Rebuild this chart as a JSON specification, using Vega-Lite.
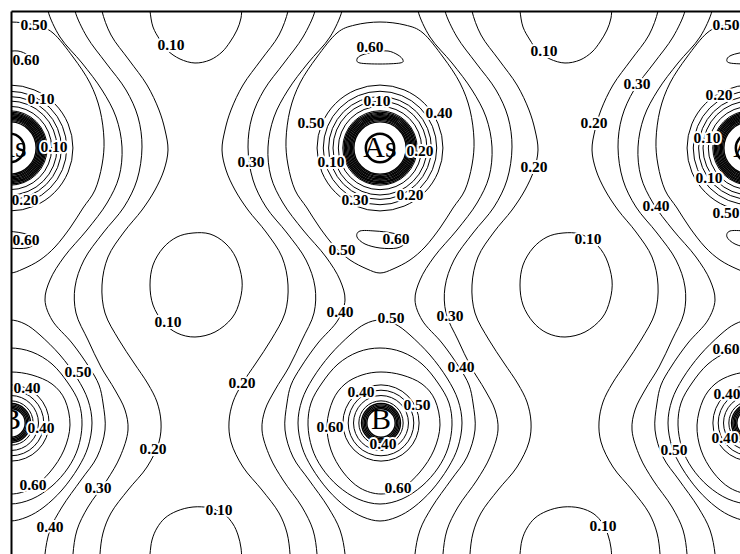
{
  "$schema": "https://vega.github.io/schema/vega-lite/v6.json",
  "width": 729,
  "height": 543,
  "autosize": {"type": "none"},
  "padding": {"left": 11, "top": 11, "right": 0, "bottom": 0},
  "background": "white",
  "config": {"view": {"stroke": null}},
  "datasets": {
    "open": [
      {"c":"L1a","x":289,"y":0},{"c":"L1a","x":288,"y":11},{"c":"L1a","x":279,"y":35},{"c":"L1a","x":261,"y":60},{"c":"L1a","x":243,"y":85},{"c":"L1a","x":231,"y":110},{"c":"L1a","x":225,"y":130},{"c":"L1a","x":222,"y":150},{"c":"L1a","x":226,"y":170},{"c":"L1a","x":235,"y":190},{"c":"L1a","x":248,"y":210},{"c":"L1a","x":266,"y":232},{"c":"L1a","x":282,"y":257},{"c":"L1a","x":288,"y":285},{"c":"L1a","x":285,"y":313},{"c":"L1a","x":271,"y":340},{"c":"L1a","x":256,"y":363},{"c":"L1a","x":242,"y":384},{"c":"L1a","x":233,"y":402},{"c":"L1a","x":229,"y":422},{"c":"L1a","x":231,"y":442},{"c":"L1a","x":243,"y":467},{"c":"L1a","x":262,"y":490},{"c":"L1a","x":279,"y":513},{"c":"L1a","x":287,"y":533},{"c":"L1a","x":290,"y":554},{"c":"L1a","x":290,"y":565},
      {"c":"L1b","x":471,"y":0},{"c":"L1b","x":472,"y":11},{"c":"L1b","x":481,"y":35},{"c":"L1b","x":499,"y":60},{"c":"L1b","x":517,"y":85},{"c":"L1b","x":529,"y":110},{"c":"L1b","x":535,"y":130},{"c":"L1b","x":538,"y":150},{"c":"L1b","x":534,"y":170},{"c":"L1b","x":525,"y":190},{"c":"L1b","x":512,"y":210},{"c":"L1b","x":494,"y":232},{"c":"L1b","x":478,"y":257},{"c":"L1b","x":472,"y":285},{"c":"L1b","x":475,"y":313},{"c":"L1b","x":489,"y":340},{"c":"L1b","x":504,"y":363},{"c":"L1b","x":518,"y":384},{"c":"L1b","x":527,"y":402},{"c":"L1b","x":531,"y":422},{"c":"L1b","x":529,"y":442},{"c":"L1b","x":517,"y":467},{"c":"L1b","x":498,"y":490},{"c":"L1b","x":481,"y":513},{"c":"L1b","x":473,"y":533},{"c":"L1b","x":470,"y":554},{"c":"L1b","x":470,"y":565},
      {"c":"L1c","x":101,"y":0},{"c":"L1c","x":102,"y":11},{"c":"L1c","x":111,"y":35},{"c":"L1c","x":129,"y":60},{"c":"L1c","x":147,"y":85},{"c":"L1c","x":159,"y":110},{"c":"L1c","x":165,"y":130},{"c":"L1c","x":168,"y":150},{"c":"L1c","x":164,"y":170},{"c":"L1c","x":155,"y":190},{"c":"L1c","x":142,"y":210},{"c":"L1c","x":124,"y":232},{"c":"L1c","x":108,"y":257},{"c":"L1c","x":102,"y":285},{"c":"L1c","x":105,"y":313},{"c":"L1c","x":119,"y":340},{"c":"L1c","x":134,"y":363},{"c":"L1c","x":148,"y":384},{"c":"L1c","x":157,"y":402},{"c":"L1c","x":161,"y":422},{"c":"L1c","x":159,"y":442},{"c":"L1c","x":147,"y":467},{"c":"L1c","x":128,"y":490},{"c":"L1c","x":111,"y":513},{"c":"L1c","x":103,"y":533},{"c":"L1c","x":100,"y":554},{"c":"L1c","x":100,"y":565},
      {"c":"L1d","x":659,"y":0},{"c":"L1d","x":658,"y":11},{"c":"L1d","x":649,"y":35},{"c":"L1d","x":631,"y":60},{"c":"L1d","x":613,"y":85},{"c":"L1d","x":601,"y":110},{"c":"L1d","x":595,"y":130},{"c":"L1d","x":592,"y":150},{"c":"L1d","x":596,"y":170},{"c":"L1d","x":605,"y":190},{"c":"L1d","x":618,"y":210},{"c":"L1d","x":636,"y":232},{"c":"L1d","x":652,"y":257},{"c":"L1d","x":658,"y":285},{"c":"L1d","x":655,"y":313},{"c":"L1d","x":641,"y":340},{"c":"L1d","x":626,"y":363},{"c":"L1d","x":612,"y":384},{"c":"L1d","x":603,"y":402},{"c":"L1d","x":599,"y":422},{"c":"L1d","x":601,"y":442},{"c":"L1d","x":613,"y":467},{"c":"L1d","x":632,"y":490},{"c":"L1d","x":649,"y":513},{"c":"L1d","x":657,"y":533},{"c":"L1d","x":660,"y":554},{"c":"L1d","x":660,"y":565},
      {"c":"L2a","x":316,"y":0},{"c":"L2a","x":315,"y":11},{"c":"L2a","x":303,"y":37},{"c":"L2a","x":284,"y":63},{"c":"L2a","x":264,"y":90},{"c":"L2a","x":252,"y":117},{"c":"L2a","x":248,"y":147},{"c":"L2a","x":253,"y":180},{"c":"L2a","x":266,"y":207},{"c":"L2a","x":287,"y":233},{"c":"L2a","x":306,"y":260},{"c":"L2a","x":315,"y":287},{"c":"L2a","x":314,"y":313},{"c":"L2a","x":302,"y":340},{"c":"L2a","x":289,"y":367},{"c":"L2a","x":275,"y":390},{"c":"L2a","x":265,"y":410},{"c":"L2a","x":262,"y":430},{"c":"L2a","x":270,"y":457},{"c":"L2a","x":283,"y":480},{"c":"L2a","x":302,"y":507},{"c":"L2a","x":313,"y":530},{"c":"L2a","x":317,"y":554},{"c":"L2a","x":317,"y":565},
      {"c":"L2b","x":444,"y":0},{"c":"L2b","x":445,"y":11},{"c":"L2b","x":457,"y":37},{"c":"L2b","x":476,"y":63},{"c":"L2b","x":496,"y":90},{"c":"L2b","x":508,"y":117},{"c":"L2b","x":512,"y":147},{"c":"L2b","x":507,"y":180},{"c":"L2b","x":494,"y":207},{"c":"L2b","x":473,"y":233},{"c":"L2b","x":454,"y":260},{"c":"L2b","x":445,"y":287},{"c":"L2b","x":446,"y":313},{"c":"L2b","x":458,"y":340},{"c":"L2b","x":471,"y":367},{"c":"L2b","x":485,"y":390},{"c":"L2b","x":495,"y":410},{"c":"L2b","x":498,"y":430},{"c":"L2b","x":490,"y":457},{"c":"L2b","x":477,"y":480},{"c":"L2b","x":458,"y":507},{"c":"L2b","x":447,"y":530},{"c":"L2b","x":443,"y":554},{"c":"L2b","x":443,"y":565},
      {"c":"L2c","x":74,"y":0},{"c":"L2c","x":75,"y":11},{"c":"L2c","x":87,"y":37},{"c":"L2c","x":106,"y":63},{"c":"L2c","x":126,"y":90},{"c":"L2c","x":138,"y":117},{"c":"L2c","x":142,"y":147},{"c":"L2c","x":137,"y":180},{"c":"L2c","x":124,"y":207},{"c":"L2c","x":103,"y":233},{"c":"L2c","x":84,"y":260},{"c":"L2c","x":75,"y":287},{"c":"L2c","x":76,"y":313},{"c":"L2c","x":88,"y":340},{"c":"L2c","x":101,"y":367},{"c":"L2c","x":115,"y":390},{"c":"L2c","x":125,"y":410},{"c":"L2c","x":128,"y":430},{"c":"L2c","x":120,"y":457},{"c":"L2c","x":107,"y":480},{"c":"L2c","x":88,"y":507},{"c":"L2c","x":77,"y":530},{"c":"L2c","x":73,"y":554},{"c":"L2c","x":73,"y":565},
      {"c":"L2d","x":686,"y":0},{"c":"L2d","x":685,"y":11},{"c":"L2d","x":673,"y":37},{"c":"L2d","x":654,"y":63},{"c":"L2d","x":634,"y":90},{"c":"L2d","x":622,"y":117},{"c":"L2d","x":618,"y":147},{"c":"L2d","x":623,"y":180},{"c":"L2d","x":636,"y":207},{"c":"L2d","x":657,"y":233},{"c":"L2d","x":676,"y":260},{"c":"L2d","x":685,"y":287},{"c":"L2d","x":684,"y":313},{"c":"L2d","x":672,"y":340},{"c":"L2d","x":659,"y":367},{"c":"L2d","x":645,"y":390},{"c":"L2d","x":635,"y":410},{"c":"L2d","x":632,"y":430},{"c":"L2d","x":640,"y":457},{"c":"L2d","x":653,"y":480},{"c":"L2d","x":672,"y":507},{"c":"L2d","x":683,"y":530},{"c":"L2d","x":687,"y":554},{"c":"L2d","x":687,"y":565},
      {"c":"L3a","x":343,"y":0},{"c":"L3a","x":342,"y":11},{"c":"L3a","x":330,"y":37},{"c":"L3a","x":308,"y":63},{"c":"L3a","x":288,"y":90},{"c":"L3a","x":274,"y":117},{"c":"L3a","x":268,"y":147},{"c":"L3a","x":271,"y":177},{"c":"L3a","x":283,"y":203},{"c":"L3a","x":303,"y":230},{"c":"L3a","x":326,"y":257},{"c":"L3a","x":340,"y":280},{"c":"L3a","x":345,"y":300},{"c":"L3a","x":338,"y":320},{"c":"L3a","x":318,"y":343},{"c":"L3a","x":301,"y":367},{"c":"L3a","x":291,"y":385},{"c":"L3a","x":287,"y":403},{"c":"L3a","x":285,"y":430},{"c":"L3a","x":293,"y":457},{"c":"L3a","x":309,"y":480},{"c":"L3a","x":328,"y":507},{"c":"L3a","x":340,"y":530},{"c":"L3a","x":345,"y":554},{"c":"L3a","x":345,"y":565},
      {"c":"L3b","x":417,"y":0},{"c":"L3b","x":418,"y":11},{"c":"L3b","x":430,"y":37},{"c":"L3b","x":452,"y":63},{"c":"L3b","x":472,"y":90},{"c":"L3b","x":486,"y":117},{"c":"L3b","x":492,"y":147},{"c":"L3b","x":489,"y":177},{"c":"L3b","x":477,"y":203},{"c":"L3b","x":457,"y":230},{"c":"L3b","x":434,"y":257},{"c":"L3b","x":420,"y":280},{"c":"L3b","x":415,"y":300},{"c":"L3b","x":422,"y":320},{"c":"L3b","x":442,"y":343},{"c":"L3b","x":459,"y":367},{"c":"L3b","x":469,"y":385},{"c":"L3b","x":473,"y":403},{"c":"L3b","x":475,"y":430},{"c":"L3b","x":467,"y":457},{"c":"L3b","x":451,"y":480},{"c":"L3b","x":432,"y":507},{"c":"L3b","x":420,"y":530},{"c":"L3b","x":415,"y":554},{"c":"L3b","x":415,"y":565},
      {"c":"L3c","x":47,"y":0},{"c":"L3c","x":48,"y":11},{"c":"L3c","x":60,"y":37},{"c":"L3c","x":82,"y":63},{"c":"L3c","x":102,"y":90},{"c":"L3c","x":116,"y":117},{"c":"L3c","x":122,"y":147},{"c":"L3c","x":119,"y":177},{"c":"L3c","x":107,"y":203},{"c":"L3c","x":87,"y":230},{"c":"L3c","x":64,"y":257},{"c":"L3c","x":50,"y":280},{"c":"L3c","x":45,"y":300},{"c":"L3c","x":52,"y":320},{"c":"L3c","x":72,"y":343},{"c":"L3c","x":89,"y":367},{"c":"L3c","x":99,"y":385},{"c":"L3c","x":103,"y":403},{"c":"L3c","x":105,"y":430},{"c":"L3c","x":97,"y":457},{"c":"L3c","x":81,"y":480},{"c":"L3c","x":62,"y":507},{"c":"L3c","x":50,"y":530},{"c":"L3c","x":45,"y":554},{"c":"L3c","x":45,"y":565},
      {"c":"L3d","x":713,"y":0},{"c":"L3d","x":712,"y":11},{"c":"L3d","x":700,"y":37},{"c":"L3d","x":678,"y":63},{"c":"L3d","x":658,"y":90},{"c":"L3d","x":644,"y":117},{"c":"L3d","x":638,"y":147},{"c":"L3d","x":641,"y":177},{"c":"L3d","x":653,"y":203},{"c":"L3d","x":673,"y":230},{"c":"L3d","x":696,"y":257},{"c":"L3d","x":710,"y":280},{"c":"L3d","x":715,"y":300},{"c":"L3d","x":708,"y":320},{"c":"L3d","x":688,"y":343},{"c":"L3d","x":671,"y":367},{"c":"L3d","x":661,"y":385},{"c":"L3d","x":657,"y":403},{"c":"L3d","x":655,"y":430},{"c":"L3d","x":663,"y":457},{"c":"L3d","x":679,"y":480},{"c":"L3d","x":698,"y":507},{"c":"L3d","x":710,"y":530},{"c":"L3d","x":715,"y":554},{"c":"L3d","x":715,"y":565},
      {"c":"T1","x":149,"y":0},{"c":"T1","x":150,"y":11},{"c":"T1","x":153,"y":27},{"c":"T1","x":160,"y":40},{"c":"T1","x":167,"y":50},{"c":"T1","x":180,"y":59},{"c":"T1","x":195,"y":63},{"c":"T1","x":210,"y":60},{"c":"T1","x":222,"y":52},{"c":"T1","x":230,"y":42},{"c":"T1","x":237,"y":30},{"c":"T1","x":241,"y":18},{"c":"T1","x":242,"y":0},
      {"c":"T2","x":519,"y":0},{"c":"T2","x":520,"y":11},{"c":"T2","x":523,"y":27},{"c":"T2","x":530,"y":40},{"c":"T2","x":537,"y":50},{"c":"T2","x":550,"y":59},{"c":"T2","x":565,"y":63},{"c":"T2","x":580,"y":60},{"c":"T2","x":592,"y":52},{"c":"T2","x":600,"y":42},{"c":"T2","x":607,"y":30},{"c":"T2","x":611,"y":18},{"c":"T2","x":612,"y":0},
      {"c":"B1","x":149,"y":565},{"c":"B1","x":150,"y":554},{"c":"B1","x":152,"y":540},{"c":"B1","x":157,"y":528},{"c":"B1","x":165,"y":518},{"c":"B1","x":177,"y":511},{"c":"B1","x":193,"y":507},{"c":"B1","x":210,"y":508},{"c":"B1","x":224,"y":514},{"c":"B1","x":233,"y":524},{"c":"B1","x":238,"y":535},{"c":"B1","x":241,"y":548},{"c":"B1","x":242,"y":565},
      {"c":"B2","x":519,"y":565},{"c":"B2","x":520,"y":554},{"c":"B2","x":522,"y":540},{"c":"B2","x":527,"y":528},{"c":"B2","x":535,"y":518},{"c":"B2","x":547,"y":511},{"c":"B2","x":563,"y":507},{"c":"B2","x":580,"y":508},{"c":"B2","x":594,"y":514},{"c":"B2","x":603,"y":524},{"c":"B2","x":608,"y":535},{"c":"B2","x":611,"y":548},{"c":"B2","x":612,"y":565}
    ],
    "loops": [
      {"c":"M1","x":193,"y":233},{"c":"M1","x":210,"y":234},{"c":"M1","x":225,"y":243},{"c":"M1","x":236,"y":258},{"c":"M1","x":242,"y":280},{"c":"M1","x":240,"y":300},{"c":"M1","x":232,"y":318},{"c":"M1","x":215,"y":332},{"c":"M1","x":195,"y":337},{"c":"M1","x":177,"y":333},{"c":"M1","x":163,"y":322},{"c":"M1","x":153,"y":305},{"c":"M1","x":150,"y":285},{"c":"M1","x":153,"y":265},{"c":"M1","x":163,"y":248},{"c":"M1","x":177,"y":237},
      {"c":"M2","x":563,"y":233},{"c":"M2","x":580,"y":234},{"c":"M2","x":595,"y":243},{"c":"M2","x":606,"y":258},{"c":"M2","x":612,"y":280},{"c":"M2","x":610,"y":300},{"c":"M2","x":602,"y":318},{"c":"M2","x":585,"y":332},{"c":"M2","x":565,"y":337},{"c":"M2","x":547,"y":333},{"c":"M2","x":533,"y":322},{"c":"M2","x":523,"y":305},{"c":"M2","x":520,"y":285},{"c":"M2","x":523,"y":265},{"c":"M2","x":533,"y":248},{"c":"M2","x":547,"y":237},
      {"c":"D1","x":10,"y":22},{"c":"D1","x":-15,"y":25},{"c":"D1","x":-33,"y":33},{"c":"D1","x":-53,"y":57},{"c":"D1","x":-70,"y":83},{"c":"D1","x":-80,"y":110},{"c":"D1","x":-84,"y":140},{"c":"D1","x":-82,"y":165},{"c":"D1","x":-75,"y":190},{"c":"D1","x":-63,"y":208},{"c":"D1","x":-50,"y":228},{"c":"D1","x":-35,"y":247},{"c":"D1","x":-20,"y":260},{"c":"D1","x":-3,"y":269},{"c":"D1","x":10,"y":273},{"c":"D1","x":23,"y":269},{"c":"D1","x":40,"y":260},{"c":"D1","x":55,"y":247},{"c":"D1","x":70,"y":228},{"c":"D1","x":83,"y":208},{"c":"D1","x":95,"y":190},{"c":"D1","x":102,"y":165},{"c":"D1","x":104,"y":140},{"c":"D1","x":100,"y":110},{"c":"D1","x":90,"y":83},{"c":"D1","x":73,"y":57},{"c":"D1","x":53,"y":33},{"c":"D1","x":35,"y":25},
      {"c":"D2","x":380,"y":22},{"c":"D2","x":355,"y":25},{"c":"D2","x":337,"y":33},{"c":"D2","x":317,"y":57},{"c":"D2","x":300,"y":83},{"c":"D2","x":290,"y":110},{"c":"D2","x":286,"y":140},{"c":"D2","x":288,"y":165},{"c":"D2","x":295,"y":190},{"c":"D2","x":307,"y":208},{"c":"D2","x":320,"y":228},{"c":"D2","x":335,"y":247},{"c":"D2","x":350,"y":260},{"c":"D2","x":367,"y":269},{"c":"D2","x":380,"y":273},{"c":"D2","x":393,"y":269},{"c":"D2","x":410,"y":260},{"c":"D2","x":425,"y":247},{"c":"D2","x":440,"y":228},{"c":"D2","x":453,"y":208},{"c":"D2","x":465,"y":190},{"c":"D2","x":472,"y":165},{"c":"D2","x":474,"y":140},{"c":"D2","x":470,"y":110},{"c":"D2","x":460,"y":83},{"c":"D2","x":443,"y":57},{"c":"D2","x":423,"y":33},{"c":"D2","x":405,"y":25},
      {"c":"D3","x":750,"y":22},{"c":"D3","x":725,"y":25},{"c":"D3","x":707,"y":33},{"c":"D3","x":687,"y":57},{"c":"D3","x":670,"y":83},{"c":"D3","x":660,"y":110},{"c":"D3","x":656,"y":140},{"c":"D3","x":658,"y":165},{"c":"D3","x":665,"y":190},{"c":"D3","x":677,"y":208},{"c":"D3","x":690,"y":228},{"c":"D3","x":705,"y":247},{"c":"D3","x":720,"y":260},{"c":"D3","x":737,"y":269},{"c":"D3","x":750,"y":273},{"c":"D3","x":763,"y":269},{"c":"D3","x":780,"y":260},{"c":"D3","x":795,"y":247},{"c":"D3","x":810,"y":228},{"c":"D3","x":823,"y":208},{"c":"D3","x":835,"y":190},{"c":"D3","x":842,"y":165},{"c":"D3","x":844,"y":140},{"c":"D3","x":840,"y":110},{"c":"D3","x":830,"y":83},{"c":"D3","x":813,"y":57},{"c":"D3","x":793,"y":33},{"c":"D3","x":775,"y":25},
      {"c":"P1","x":-8,"y":55},{"c":"P1","x":-13,"y":59},{"c":"P1","x":-10,"y":63},{"c":"P1","x":10,"y":64},{"c":"P1","x":30,"y":63},{"c":"P1","x":33,"y":60},{"c":"P1","x":28,"y":55},{"c":"P1","x":18,"y":51},{"c":"P1","x":5,"y":52},
      {"c":"P2","x":362,"y":55},{"c":"P2","x":357,"y":59},{"c":"P2","x":360,"y":63},{"c":"P2","x":380,"y":64},{"c":"P2","x":400,"y":63},{"c":"P2","x":403,"y":60},{"c":"P2","x":398,"y":55},{"c":"P2","x":388,"y":51},{"c":"P2","x":375,"y":52},
      {"c":"P3","x":732,"y":55},{"c":"P3","x":727,"y":59},{"c":"P3","x":730,"y":63},{"c":"P3","x":750,"y":64},{"c":"P3","x":770,"y":63},{"c":"P3","x":773,"y":60},{"c":"P3","x":768,"y":55},{"c":"P3","x":758,"y":51},{"c":"P3","x":745,"y":52},
      {"c":"Q1","x":-10,"y":231},{"c":"Q1","x":5,"y":231},{"c":"Q1","x":22,"y":233},{"c":"Q1","x":33,"y":237},{"c":"Q1","x":35,"y":243},{"c":"Q1","x":27,"y":248},{"c":"Q1","x":10,"y":248},{"c":"Q1","x":-5,"y":244},{"c":"Q1","x":-13,"y":237},
      {"c":"Q2","x":360,"y":231},{"c":"Q2","x":375,"y":231},{"c":"Q2","x":392,"y":233},{"c":"Q2","x":403,"y":237},{"c":"Q2","x":405,"y":243},{"c":"Q2","x":397,"y":248},{"c":"Q2","x":380,"y":248},{"c":"Q2","x":365,"y":244},{"c":"Q2","x":357,"y":237},
      {"c":"Q3","x":730,"y":231},{"c":"Q3","x":745,"y":231},{"c":"Q3","x":762,"y":233},{"c":"Q3","x":773,"y":237},{"c":"Q3","x":775,"y":243},{"c":"Q3","x":767,"y":248},{"c":"Q3","x":750,"y":248},{"c":"Q3","x":735,"y":244},{"c":"Q3","x":727,"y":237},
      {"c":"E1","x":10,"y":320},{"c":"E1","x":-5,"y":324},{"c":"E1","x":-20,"y":335},{"c":"E1","x":-40,"y":355},{"c":"E1","x":-57,"y":378},{"c":"E1","x":-68,"y":400},{"c":"E1","x":-72,"y":423},{"c":"E1","x":-68,"y":447},{"c":"E1","x":-58,"y":468},{"c":"E1","x":-42,"y":490},{"c":"E1","x":-24,"y":507},{"c":"E1","x":-7,"y":517},{"c":"E1","x":10,"y":521},{"c":"E1","x":27,"y":517},{"c":"E1","x":44,"y":507},{"c":"E1","x":62,"y":490},{"c":"E1","x":78,"y":468},{"c":"E1","x":88,"y":447},{"c":"E1","x":92,"y":423},{"c":"E1","x":88,"y":400},{"c":"E1","x":77,"y":378},{"c":"E1","x":60,"y":355},{"c":"E1","x":40,"y":335},{"c":"E1","x":25,"y":324},
      {"c":"E2","x":380,"y":320},{"c":"E2","x":365,"y":324},{"c":"E2","x":350,"y":335},{"c":"E2","x":330,"y":355},{"c":"E2","x":313,"y":378},{"c":"E2","x":302,"y":400},{"c":"E2","x":298,"y":423},{"c":"E2","x":302,"y":447},{"c":"E2","x":312,"y":468},{"c":"E2","x":328,"y":490},{"c":"E2","x":346,"y":507},{"c":"E2","x":363,"y":517},{"c":"E2","x":380,"y":521},{"c":"E2","x":397,"y":517},{"c":"E2","x":414,"y":507},{"c":"E2","x":432,"y":490},{"c":"E2","x":448,"y":468},{"c":"E2","x":458,"y":447},{"c":"E2","x":462,"y":423},{"c":"E2","x":458,"y":400},{"c":"E2","x":447,"y":378},{"c":"E2","x":430,"y":355},{"c":"E2","x":410,"y":335},{"c":"E2","x":395,"y":324},
      {"c":"E3","x":750,"y":320},{"c":"E3","x":735,"y":324},{"c":"E3","x":720,"y":335},{"c":"E3","x":700,"y":355},{"c":"E3","x":683,"y":378},{"c":"E3","x":672,"y":400},{"c":"E3","x":668,"y":423},{"c":"E3","x":672,"y":447},{"c":"E3","x":682,"y":468},{"c":"E3","x":698,"y":490},{"c":"E3","x":716,"y":507},{"c":"E3","x":733,"y":517},{"c":"E3","x":750,"y":521},{"c":"E3","x":767,"y":517},{"c":"E3","x":784,"y":507},{"c":"E3","x":802,"y":490},{"c":"E3","x":818,"y":468},{"c":"E3","x":828,"y":447},{"c":"E3","x":832,"y":423},{"c":"E3","x":828,"y":400},{"c":"E3","x":817,"y":378},{"c":"E3","x":800,"y":355},{"c":"E3","x":780,"y":335},{"c":"E3","x":765,"y":324},
      {"c":"X1","x":10,"y":348},{"c":"X1","x":-12,"y":352},{"c":"X1","x":-32,"y":364},{"c":"X1","x":-48,"y":383},{"c":"X1","x":-59,"y":403},{"c":"X1","x":-62,"y":425},{"c":"X1","x":-58,"y":448},{"c":"X1","x":-48,"y":468},{"c":"X1","x":-32,"y":486},{"c":"X1","x":-12,"y":499},{"c":"X1","x":10,"y":504},{"c":"X1","x":32,"y":499},{"c":"X1","x":52,"y":486},{"c":"X1","x":68,"y":468},{"c":"X1","x":78,"y":448},{"c":"X1","x":82,"y":425},{"c":"X1","x":79,"y":403},{"c":"X1","x":68,"y":383},{"c":"X1","x":52,"y":364},{"c":"X1","x":32,"y":352},
      {"c":"X2","x":380,"y":348},{"c":"X2","x":358,"y":352},{"c":"X2","x":338,"y":364},{"c":"X2","x":322,"y":383},{"c":"X2","x":311,"y":403},{"c":"X2","x":308,"y":425},{"c":"X2","x":312,"y":448},{"c":"X2","x":322,"y":468},{"c":"X2","x":338,"y":486},{"c":"X2","x":358,"y":499},{"c":"X2","x":380,"y":504},{"c":"X2","x":402,"y":499},{"c":"X2","x":422,"y":486},{"c":"X2","x":438,"y":468},{"c":"X2","x":448,"y":448},{"c":"X2","x":452,"y":425},{"c":"X2","x":449,"y":403},{"c":"X2","x":438,"y":383},{"c":"X2","x":422,"y":364},{"c":"X2","x":402,"y":352},
      {"c":"X3","x":750,"y":348},{"c":"X3","x":728,"y":352},{"c":"X3","x":708,"y":364},{"c":"X3","x":692,"y":383},{"c":"X3","x":681,"y":403},{"c":"X3","x":678,"y":425},{"c":"X3","x":682,"y":448},{"c":"X3","x":692,"y":468},{"c":"X3","x":708,"y":486},{"c":"X3","x":728,"y":499},{"c":"X3","x":750,"y":504},{"c":"X3","x":772,"y":499},{"c":"X3","x":792,"y":486},{"c":"X3","x":808,"y":468},{"c":"X3","x":818,"y":448},{"c":"X3","x":822,"y":425},{"c":"X3","x":819,"y":403},{"c":"X3","x":808,"y":383},{"c":"X3","x":792,"y":364},{"c":"X3","x":772,"y":352},
      {"c":"Y1","x":11,"y":372},{"c":"Y1","x":-8,"y":375},{"c":"Y1","x":-25,"y":384},{"c":"Y1","x":-37,"y":400},{"c":"Y1","x":-43,"y":425},{"c":"Y1","x":-39,"y":450},{"c":"Y1","x":-27,"y":472},{"c":"Y1","x":-10,"y":488},{"c":"Y1","x":11,"y":494},{"c":"Y1","x":32,"y":488},{"c":"Y1","x":50,"y":472},{"c":"Y1","x":64,"y":450},{"c":"Y1","x":70,"y":425},{"c":"Y1","x":65,"y":400},{"c":"Y1","x":52,"y":384},{"c":"Y1","x":32,"y":375},
      {"c":"Y2","x":381,"y":372},{"c":"Y2","x":362,"y":375},{"c":"Y2","x":345,"y":384},{"c":"Y2","x":333,"y":400},{"c":"Y2","x":327,"y":425},{"c":"Y2","x":331,"y":450},{"c":"Y2","x":343,"y":472},{"c":"Y2","x":360,"y":488},{"c":"Y2","x":381,"y":494},{"c":"Y2","x":402,"y":488},{"c":"Y2","x":420,"y":472},{"c":"Y2","x":434,"y":450},{"c":"Y2","x":440,"y":425},{"c":"Y2","x":435,"y":400},{"c":"Y2","x":422,"y":384},{"c":"Y2","x":402,"y":375},
      {"c":"Y3","x":751,"y":372},{"c":"Y3","x":732,"y":375},{"c":"Y3","x":715,"y":384},{"c":"Y3","x":703,"y":400},{"c":"Y3","x":697,"y":425},{"c":"Y3","x":701,"y":450},{"c":"Y3","x":713,"y":472},{"c":"Y3","x":730,"y":488},{"c":"Y3","x":751,"y":494},{"c":"Y3","x":772,"y":488},{"c":"Y3","x":790,"y":472},{"c":"Y3","x":804,"y":450},{"c":"Y3","x":810,"y":425},{"c":"Y3","x":805,"y":400},{"c":"Y3","x":792,"y":384},{"c":"Y3","x":772,"y":375}
    ],
    "rings": [
      {"k":"ring","x":10,"y":148,"r":42},{"k":"ring","x":10,"y":148,"r":47},{"k":"ring","x":10,"y":148,"r":53},{"k":"ring","x":10,"y":148,"r":58},{"k":"ring","x":10,"y":148,"r":64},{"k":"ring","x":10,"y":148,"r":71},
      {"k":"ring","x":380,"y":148,"r":42},{"k":"ring","x":380,"y":148,"r":47},{"k":"ring","x":380,"y":148,"r":53},{"k":"ring","x":380,"y":148,"r":58},{"k":"ring","x":380,"y":148,"r":64},{"k":"ring","x":380,"y":148,"r":71},
      {"k":"ring","x":750,"y":148,"r":42},{"k":"ring","x":750,"y":148,"r":47},{"k":"ring","x":750,"y":148,"r":53},{"k":"ring","x":750,"y":148,"r":58},{"k":"ring","x":750,"y":148,"r":64},{"k":"ring","x":750,"y":148,"r":71},
      {"k":"ring","x":11,"y":423,"r":25},{"k":"ring","x":11,"y":423,"r":31},{"k":"ring","x":11,"y":423,"r":37},{"k":"ring","x":11,"y":423,"r":43},
      {"k":"ring","x":381,"y":423,"r":25},{"k":"ring","x":381,"y":423,"r":31},{"k":"ring","x":381,"y":423,"r":37},{"k":"ring","x":381,"y":423,"r":43},
      {"k":"ring","x":751,"y":423,"r":25},{"k":"ring","x":751,"y":423,"r":31},{"k":"ring","x":751,"y":423,"r":37},{"k":"ring","x":751,"y":423,"r":43},
      {"k":"core","x":10,"y":148,"r":29.5},{"k":"core","x":10,"y":148,"r":30.9},{"k":"core","x":10,"y":148,"r":32.3},{"k":"core","x":10,"y":148,"r":33.6},{"k":"core","x":10,"y":148,"r":35},{"k":"core","x":10,"y":148,"r":36.4},{"k":"core","x":10,"y":148,"r":37.8},{"k":"core","x":10,"y":148,"r":39.1},{"k":"core","x":10,"y":148,"r":40.5},
      {"k":"core","x":380,"y":148,"r":29.5},{"k":"core","x":380,"y":148,"r":30.9},{"k":"core","x":380,"y":148,"r":32.3},{"k":"core","x":380,"y":148,"r":33.6},{"k":"core","x":380,"y":148,"r":35},{"k":"core","x":380,"y":148,"r":36.4},{"k":"core","x":380,"y":148,"r":37.8},{"k":"core","x":380,"y":148,"r":39.1},{"k":"core","x":380,"y":148,"r":40.5},
      {"k":"core","x":750,"y":148,"r":29.5},{"k":"core","x":750,"y":148,"r":30.9},{"k":"core","x":750,"y":148,"r":32.3},{"k":"core","x":750,"y":148,"r":33.6},{"k":"core","x":750,"y":148,"r":35},{"k":"core","x":750,"y":148,"r":36.4},{"k":"core","x":750,"y":148,"r":37.8},{"k":"core","x":750,"y":148,"r":39.1},{"k":"core","x":750,"y":148,"r":40.5},
      {"k":"core","x":11,"y":423,"r":16},{"k":"core","x":11,"y":423,"r":17.5},{"k":"core","x":11,"y":423,"r":19},{"k":"core","x":11,"y":423,"r":20.5},{"k":"core","x":11,"y":423,"r":22},
      {"k":"core","x":381,"y":423,"r":16},{"k":"core","x":381,"y":423,"r":17.5},{"k":"core","x":381,"y":423,"r":19},{"k":"core","x":381,"y":423,"r":20.5},{"k":"core","x":381,"y":423,"r":22},
      {"k":"core","x":751,"y":423,"r":16},{"k":"core","x":751,"y":423,"r":17.5},{"k":"core","x":751,"y":423,"r":19},{"k":"core","x":751,"y":423,"r":20.5},{"k":"core","x":751,"y":423,"r":22},
      {"k":"glyph","x":10,"y":148,"r":16},{"k":"glyph","x":380,"y":148,"r":16},{"k":"glyph","x":750,"y":148,"r":16}
    ],
    "atoms": [
      {"t":"As","x":10,"y":148},{"t":"As","x":380,"y":148},{"t":"As","x":750,"y":148},
      {"t":"B","x":11,"y":420},{"t":"B","x":381,"y":420},{"t":"B","x":751,"y":420}
    ],
    "labels": [
      {"t":"0.50","x":34,"y":25},{"t":"0.60","x":26,"y":60},{"t":"0.10","x":41,"y":99},{"t":"0.10","x":54,"y":147},{"t":"0.20","x":25,"y":200},{"t":"0.60","x":26,"y":240},
      {"t":"0.10","x":171,"y":45},{"t":"0.60","x":370,"y":47},{"t":"0.10","x":544,"y":51},{"t":"0.50","x":726,"y":25},{"t":"0.30","x":637,"y":84},{"t":"0.20","x":719,"y":95},
      {"t":"0.50","x":311,"y":123},{"t":"0.10","x":377,"y":101},{"t":"0.40","x":439,"y":113},{"t":"0.20","x":594,"y":123},{"t":"0.10","x":707,"y":138},
      {"t":"0.30","x":251,"y":162},{"t":"0.10","x":331,"y":162},{"t":"0.20","x":420,"y":151},{"t":"0.20","x":534,"y":167},{"t":"0.10","x":709,"y":178},
      {"t":"0.30","x":355,"y":200},{"t":"0.20","x":410,"y":195},{"t":"0.40","x":656,"y":206},{"t":"0.50","x":726,"y":213},
      {"t":"0.50","x":342,"y":250},{"t":"0.60","x":396,"y":239},{"t":"0.10","x":588,"y":239},
      {"t":"0.40","x":340,"y":312},{"t":"0.50","x":391,"y":318},{"t":"0.30","x":450,"y":316},{"t":"0.10","x":168,"y":322},
      {"t":"0.60","x":726,"y":349},{"t":"0.50","x":78,"y":372},{"t":"0.40","x":461,"y":367},{"t":"0.40","x":27,"y":388},{"t":"0.20","x":242,"y":383},
      {"t":"0.40","x":361,"y":392},{"t":"0.50","x":417,"y":405},{"t":"0.40","x":727,"y":394},{"t":"0.60","x":330,"y":427},{"t":"0.40","x":41,"y":428},
      {"t":"0.40","x":383,"y":444},{"t":"0.40","x":725,"y":438},{"t":"0.20","x":153,"y":449},{"t":"0.50","x":674,"y":450},
      {"t":"0.60","x":33,"y":485},{"t":"0.30","x":98,"y":488},{"t":"0.60","x":398,"y":488},{"t":"0.10","x":219,"y":510},{"t":"0.40","x":50,"y":527},{"t":"0.10","x":603,"y":526}
    ]
  },
  "encoding": {
    "x": {
      "field": "x", "type": "quantitative",
      "scale": {"domain": [11, 740], "nice": false, "zero": false},
      "axis": {"orient": "top", "labels": false, "ticks": false, "grid": false, "title": null, "domainColor": "black", "domainWidth": 2, "zindex": 1}
    },
    "y": {
      "field": "y", "type": "quantitative",
      "scale": {"domain": [11, 554], "nice": false, "zero": false, "reverse": true},
      "axis": {"orient": "left", "labels": false, "ticks": false, "grid": false, "title": null, "domainColor": "black", "domainWidth": 2, "zindex": 1}
    }
  },
  "layer": [
    {
      "data": {"name": "open"},
      "mark": {"type": "line", "interpolate": "catmull-rom", "color": "black", "strokeWidth": 1, "clip": true},
      "encoding": {"detail": {"field": "c"}, "order": {"value": null}}
    },
    {
      "data": {"name": "loops"},
      "mark": {"type": "line", "interpolate": "cardinal-closed", "color": "black", "strokeWidth": 1, "clip": true},
      "encoding": {"detail": {"field": "c"}, "order": {"value": null}}
    },
    {
      "data": {"name": "rings"},
      "transform": [{"filter": "datum.k == 'ring'"}],
      "mark": {"type": "point", "shape": "circle", "filled": false, "color": "black", "strokeWidth": 1, "opacity": 1, "clip": true},
      "encoding": {"size": {"field": "r", "type": "quantitative", "scale": {"type": "pow", "exponent": 2, "domain": [0, 100], "range": [0, 31415.93]}, "legend": null}}
    },
    {
      "data": {"name": "rings"},
      "transform": [{"filter": "datum.k == 'core'"}],
      "mark": {"type": "point", "shape": "circle", "filled": false, "color": "black", "strokeWidth": 1.4, "opacity": 1, "clip": true},
      "encoding": {"size": {"field": "r", "type": "quantitative", "scale": {"type": "pow", "exponent": 2, "domain": [0, 100], "range": [0, 31415.93]}, "legend": null}}
    },
    {
      "data": {"name": "rings"},
      "transform": [{"filter": "datum.k == 'glyph'"}],
      "mark": {"type": "point", "shape": "circle", "filled": false, "color": "black", "strokeWidth": 2.5, "opacity": 1, "clip": true},
      "encoding": {"size": {"field": "r", "type": "quantitative", "scale": {"type": "pow", "exponent": 2, "domain": [0, 100], "range": [0, 31415.93]}, "legend": null}}
    },
    {
      "data": {"name": "atoms"},
      "mark": {"type": "text", "font": "Liberation Serif", "fontSize": 30, "color": "black", "baseline": "middle", "align": "center", "clip": true},
      "encoding": {"text": {"field": "t"}}
    },
    {
      "data": {"name": "labels"},
      "mark": {"type": "text", "font": "Liberation Serif", "fontWeight": "bold", "fontSize": 15.5, "fill": "white", "stroke": "white", "strokeWidth": 4, "baseline": "middle", "align": "center", "clip": true},
      "encoding": {"text": {"field": "t"}}
    },
    {
      "data": {"name": "labels"},
      "mark": {"type": "text", "font": "Liberation Serif", "fontWeight": "bold", "fontSize": 15.5, "color": "black", "baseline": "middle", "align": "center", "clip": true},
      "encoding": {"text": {"field": "t"}}
    }
  ]
}
